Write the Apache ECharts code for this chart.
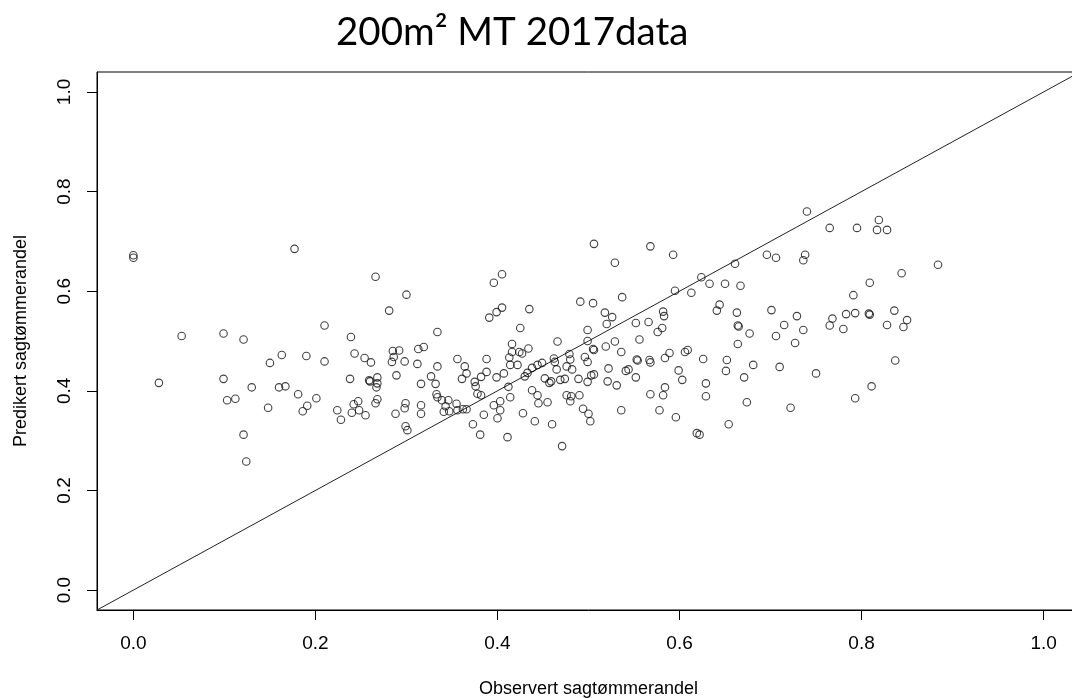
<!DOCTYPE html>
<html>
<head>
<meta charset="utf-8">
<title>200m² MT 2017data</title>
<script src="https://cdn.jsdelivr.net/npm/echarts@6/dist/echarts.min.js"></script>
<style>
  html, body { margin: 0; padding: 0; background: #fff; width: 1072px; height: 698px; overflow: hidden; }
  /* plot box runs slightly past the right edge of the page */
  #chart { width: 1080px; height: 698px; }
</style>
</head>
<body>
<div id="chart"></div>
<script>
// Observed vs. predicted sawlog share per plot
const obsX = [
  0.000,0.000,0.053,0.099,0.121,0.028,0.099,0.130,0.103,0.112,0.121,0.124,
  0.177,0.266,0.281,0.210,0.239,0.150,0.163,0.190,0.210,0.243,0.254,0.261,0.238,0.260,0.259,0.268,0.268,0.267,0.160,0.167,0.181,0.201,0.191,0.186,0.148,0.224,0.228,0.247,0.242,0.248,0.240,0.255,0.268,0.266,
  0.300,0.285,0.292,0.286,0.284,0.298,0.289,0.288,0.299,0.298,0.299,0.301,0.312,0.313,0.319,0.334,0.334,0.316,0.332,0.327,0.316,0.316,0.333,0.334,0.339,0.346,0.343,0.341,0.347,0.355,0.356,0.362,0.366,0.356,0.364,0.366,0.361,0.375,0.376,0.378,0.382,0.382,0.388,0.388,0.399,0.407,0.412,0.414,0.416,0.416,0.413,0.422,0.424,0.427,0.425,0.430,0.391,0.399,0.405,0.396,0.405,0.403,0.396,0.403,0.400,0.385,0.373,0.381,0.411,0.414,0.428,
  0.506,0.568,0.529,0.537,0.491,0.505,0.435,0.518,0.526,0.520,0.499,0.552,0.566,0.556,0.576,0.466,0.499,0.505,0.506,0.434,0.519,0.529,0.536,0.479,0.480,0.496,0.499,0.462,0.463,0.449,0.444,0.438,0.433,0.476,0.465,0.482,0.452,0.457,0.459,0.469,0.474,0.489,0.499,0.503,0.506,0.522,0.521,0.531,0.438,0.444,0.445,0.455,0.476,0.481,0.490,0.480,0.494,0.500,0.502,0.441,0.460,0.471,0.536,0.541,0.544,0.553,0.554,0.552,0.567,0.568,0.568,0.578,
  0.593,0.696,0.706,0.661,0.624,0.633,0.650,0.667,0.595,0.613,0.644,0.641,0.582,0.583,0.663,0.701,0.729,0.581,0.664,0.665,0.677,0.715,0.706,0.727,0.664,0.584,0.589,0.606,0.609,0.626,0.652,0.651,0.681,0.710,0.671,0.599,0.603,0.584,0.582,0.629,0.629,0.596,0.674,0.722,0.654,0.619,0.622,
  0.740,0.765,0.795,0.819,0.817,0.828,0.738,0.736,0.884,0.844,0.809,0.791,0.736,0.768,0.765,0.780,0.783,0.793,0.808,0.809,0.836,0.850,0.846,0.828,0.837,0.750,0.811,0.793
];
const predY = [
  0.672,0.667,0.510,0.515,0.503,0.416,0.424,0.407,0.381,0.384,0.312,0.258,
  0.685,0.629,0.561,0.531,0.508,0.456,0.472,0.470,0.459,0.475,0.466,0.457,0.424,0.419,0.421,0.427,0.415,0.407,0.407,0.409,0.393,0.385,0.370,0.359,0.366,0.361,0.342,0.379,0.373,0.361,0.356,0.351,0.383,0.375,
  0.593,0.480,0.481,0.468,0.458,0.459,0.431,0.354,0.375,0.365,0.329,0.321,0.454,0.484,0.488,0.518,0.449,0.414,0.414,0.429,0.371,0.354,0.393,0.387,0.381,0.381,0.369,0.358,0.359,0.374,0.361,0.363,0.363,0.464,0.449,0.435,0.424,0.418,0.409,0.394,0.391,0.428,0.438,0.464,0.427,0.435,0.408,0.452,0.494,0.478,0.467,0.452,0.478,0.475,0.526,0.429,0.547,0.558,0.567,0.617,0.634,0.379,0.371,0.361,0.345,0.352,0.333,0.312,0.307,0.387,0.355,
  0.695,0.690,0.657,0.588,0.579,0.576,0.564,0.557,0.548,0.534,0.522,0.536,0.538,0.503,0.518,0.499,0.500,0.484,0.482,0.485,0.489,0.499,0.478,0.474,0.463,0.468,0.458,0.465,0.458,0.456,0.452,0.446,0.436,0.449,0.443,0.443,0.425,0.416,0.419,0.422,0.424,0.424,0.418,0.431,0.433,0.445,0.419,0.411,0.401,0.391,0.375,0.377,0.391,0.389,0.391,0.379,0.364,0.354,0.339,0.339,0.333,0.289,0.361,0.440,0.443,0.463,0.461,0.427,0.462,0.457,0.393,0.361,
  0.673,0.673,0.667,0.655,0.628,0.615,0.615,0.611,0.601,0.597,0.573,0.561,0.559,0.550,0.557,0.562,0.550,0.526,0.531,0.529,0.515,0.532,0.510,0.496,0.494,0.466,0.476,0.478,0.482,0.464,0.462,0.440,0.452,0.448,0.427,0.441,0.422,0.407,0.391,0.415,0.389,0.347,0.377,0.366,0.333,0.315,0.312,
  0.760,0.727,0.727,0.743,0.723,0.723,0.673,0.662,0.653,0.636,0.617,0.592,0.522,0.545,0.531,0.524,0.554,0.556,0.555,0.553,0.561,0.542,0.528,0.532,0.461,0.435,0.409,0.385
];
// Axis range (R-style 4% padding around 0..1) and tick labels
const axisMin = -0.04;
const axisMax = 1.04;
const tickValues = [0, 0.2, 0.4, 0.6, 0.8, 1.0];
const tickLabels = ['0.0', '0.2', '0.4', '0.6', '0.8', '1.0'];
// 1:1 reference line spanning the axis range
const identityLine = [[axisMin, axisMin], [axisMax, axisMax]];

const points = obsX.map((x, i) => [x, predY[i]]);
const labelFor = v => tickLabels[tickValues.findIndex(t => Math.abs(t - v) < 1e-9)];

const chart = echarts.init(document.getElementById('chart'), null, { renderer: 'canvas' });
const axisFont = '"Liberation Sans", Arial, sans-serif';

chart.setOption({
  animation: false,
  backgroundColor: '#ffffff',
  title: {
    text: '200m² MT 2017data',
    left: 331,
    top: 8,
    textStyle: { fontFamily: 'Lato, "Open Sans", sans-serif', fontSize: 38.5, fontWeight: 'normal', color: '#000' }
  },
  grid: {
    left: 97, top: 72, right: 0, bottom: 88,
    outerBoundsMode: 'none',
    containLabel: false,
    show: true, borderColor: '#000', borderWidth: 1, backgroundColor: 'transparent'
  },
  xAxis: {
    type: 'value', min: axisMin, max: axisMax,
    name: 'Observert sagtømmerandel',
    nameLocation: 'middle', nameGap: 70,
    nameTextStyle: { fontFamily: axisFont, fontSize: 18, color: '#000' },
    axisLine: { show: true, onZero: false, lineStyle: { color: '#000', width: 1 } },
    axisTick: { show: true, inside: false, length: 10, customValues: tickValues, lineStyle: { color: '#000' } },
    axisLabel: { show: true, customValues: tickValues, margin: 24, formatter: labelFor,
      fontFamily: axisFont, fontSize: 19, color: '#000' },
    splitLine: { show: false }
  },
  yAxis: {
    type: 'value', min: axisMin, max: axisMax,
    name: 'Predikert sagtømmerandel',
    nameLocation: 'middle', nameGap: 67,
    nameTextStyle: { fontFamily: axisFont, fontSize: 18, color: '#000' },
    axisLine: { show: true, onZero: false, lineStyle: { color: '#000', width: 1 } },
    axisTick: { show: true, inside: false, length: 10, customValues: tickValues, lineStyle: { color: '#000' } },
    axisLabel: { show: true, customValues: tickValues, margin: 23, rotate: 90, formatter: labelFor,
      fontFamily: axisFont, fontSize: 19, color: '#000' },
    splitLine: { show: false }
  },
  series: [
    {
      type: 'scatter',
      data: points,
      symbol: 'circle',
      symbolSize: 7.5,
      itemStyle: { color: 'rgba(255,255,255,0)', borderColor: '#111', borderWidth: 1.1 },
      emphasis: { disabled: true },
      z: 3
    },
    {
      type: 'line',
      data: identityLine,
      symbol: 'none',
      lineStyle: { color: '#222', width: 1 },
      silent: true,
      z: 2
    }
  ]
});
</script>
</body>
</html>
